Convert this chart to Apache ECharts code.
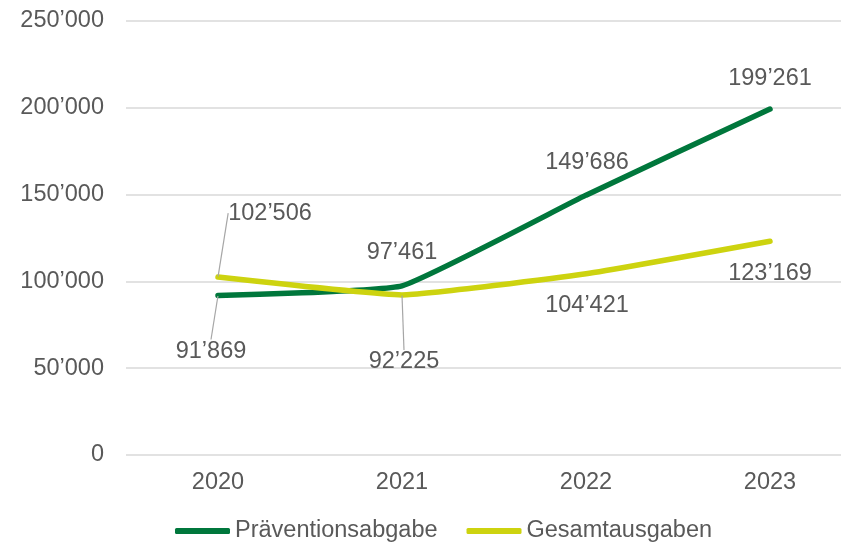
<!DOCTYPE html>
<html>
<head>
<meta charset="utf-8">
<script src="https://cdn.jsdelivr.net/npm/echarts@6/dist/echarts.min.js"></script>
<style>
  html, body { margin: 0; padding: 0; background: #fff; overflow: hidden; }
  #chart { width: 862px; height: 544px; }
</style>
</head>
<body>
<div id="chart"></div>
<script>
var years = ['2020', '2021', '2022', '2023'];
var praevention = [91869, 97461, 149686, 199261];
var gesamt = [102506, 92225, 104421, 123169];
var yTicks = [0, 50000, 100000, 150000, 200000, 250000];

// label offsets from the data point (styling only)
var praeventionLabelShift = [[-7, 56], [0, -33], [1, -33], [0, -31]];
var gesamtLabelShift = [[52, -64], [2, 67], [1, 32], [0, 32]];
var praeventionLeader = [true, false, false, false];
var gesamtLeader = [true, true, false, false];

function fmt(v) {
    return String(v).replace(/\B(?=(\d{3})+(?!\d))/g, '\u2019');
}

var textColor = '#595959';
var font = 'Liberation Sans, Arial, sans-serif';
var fs = 23.5;

function buildData(values, leader) {
    return values.map(function (v, i) {
        return {
            value: v,
            labelLine: {
                show: leader[i],
                lineStyle: { color: '#A6A6A6', width: 1.2 }
            }
        };
    });
}

var chart = echarts.init(document.getElementById('chart'));
var option = {
    animation: false,
    backgroundColor: '#fff',
    textStyle: { fontFamily: font },
    grid: {
        left: 126,
        right: 0,
        top: 21,
        bottom: 89
    },
    legend: {
        left: 170,
        top: 514,
        itemWidth: 55,
        itemHeight: 6,
        itemGap: 29,
        icon: 'roundRect',
        textStyle: { color: textColor, fontSize: fs, fontFamily: font },
        data: ['Präventionsabgabe', 'Gesamtausgaben']
    },
    xAxis: {
        type: 'category',
        data: years,
        boundaryGap: true,
        axisLine: { show: false },
        axisTick: { show: false },
        axisLabel: { color: textColor, fontSize: fs, fontFamily: font, margin: 16 }
    },
    yAxis: {
        type: 'value',
        min: yTicks[0],
        max: yTicks[yTicks.length - 1],
        interval: yTicks[1] - yTicks[0],
        axisLine: { show: false },
        axisTick: { show: false },
        splitLine: { lineStyle: { color: '#D9D9D9', width: 1.5 } },
        axisLabel: {
            color: textColor,
            fontSize: fs,
            fontFamily: font,
            margin: 22,
            formatter: function (v) { return fmt(v); }
        }
    },
    series: [
        {
            name: 'Präventionsabgabe',
            type: 'line',
            data: buildData(praevention, praeventionLeader),
            smooth: 0.12,
            symbol: 'circle',
            symbolSize: 1,
            showSymbol: true,
            itemStyle: { color: '#00773C' },
            lineStyle: { color: '#00773C', width: 5.5, cap: 'round' },
            label: {
                show: true,
                position: 'inside',
                color: textColor,
                fontSize: fs,
                fontFamily: font,
                formatter: function (p) { return fmt(p.value); }
            },
            labelLayout: function (p) {
                var s = praeventionLabelShift[p.dataIndex];
                return { dx: s[0], dy: s[1] };
            },
            z: 2
        },
        {
            name: 'Gesamtausgaben',
            type: 'line',
            data: buildData(gesamt, gesamtLeader),
            smooth: 0.12,
            symbol: 'circle',
            symbolSize: 1,
            showSymbol: true,
            itemStyle: { color: '#CDD30F' },
            lineStyle: { color: '#CDD30F', width: 5.5, cap: 'round' },
            label: {
                show: true,
                position: 'inside',
                color: textColor,
                fontSize: fs,
                fontFamily: font,
                formatter: function (p) { return fmt(p.value); }
            },
            labelLayout: function (p) {
                var s = gesamtLabelShift[p.dataIndex];
                return { dx: s[0], dy: s[1] };
            },
            z: 3
        }
    ]
};
chart.setOption(option);
</script>
</body>
</html>
